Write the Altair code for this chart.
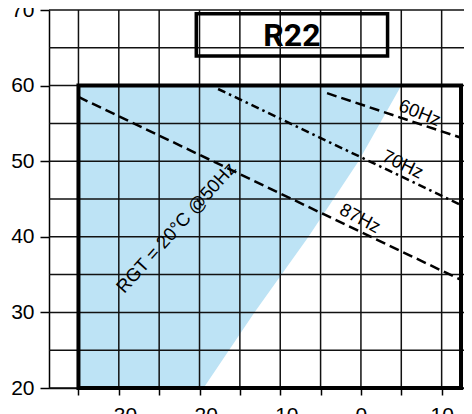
import altair as alt
import pandas as pd

# ---- data ----
grid_x = [-35, -30, -25, -20, -15, -10, -5, 0, 5, 10]
grid_y = [20, 25, 30, 35, 40, 45, 50, 55, 60, 65, 70]
x_ticks = [-35, -30, -25, -20, -15, -10, -5, 0, 5, 10]
y_ticks = [20, 30, 40, 50, 60, 70]

# shaded region (RGT = 20°C @50Hz): left edge at -35, right edge per condensing temp
blue_y = [20, 30, 40, 50, 60]
blue_x_right = [-19.5, -13.2, -6.5, -0.3, 5.0]
blue_x_left = [-35, -35, -35, -35, -35]

# envelope rectangle
env_x = [-35]
env_x2 = [12.4]
env_y = [20]
env_y2 = [60]

# R22 box
box_x = [-20.4]
box_x2 = [3.3]
box_y = [63.9]
box_y2 = [69.5]

# frequency lines
hz60_x = [-4.2, 12.4]
hz60_y = [59.0, 53.1]
hz70_x = [-17.7, 12.4]
hz70_y = [59.55, 44.2]
hz87_x = [-35.0, 12.4]
hz87_y = [58.5, 34.3]

# labels
lab_text = ["60Hz", "70Hz", "87Hz", "RGT = 20°C @50Hz"]
lab_x = [7.3, 5.2, -0.1, -22.9]
lab_y = [56.4, 49.6, 42.45, 41.2]
lab_angle = [22, 26, 28, 312]

FONT = "Liberation Sans"

xscale = alt.Scale(domain=[-38.65, 12.77], nice=False, zero=False)
yscale = alt.Scale(domain=[20, 70], nice=False, zero=False)

xaxis = alt.Axis(values=x_ticks, grid=False, tickSize=7, tickWidth=1.5, tickColor="black",
                 domainColor="black", domainWidth=1.5, labelFontSize=21, labelFont=FONT,
                 labelColor="black", labelPadding=9, title=None,
                 labelExpr="datum.value % 10 == 0 ? datum.label : ''")
yaxis = alt.Axis(values=y_ticks, grid=False, tickSize=9, tickWidth=1.5, tickColor="black",
                 domainColor="black", domainWidth=1.5, labelFontSize=21, labelFont=FONT,
                 labelColor="black", labelPadding=6, title=None)


def X(f="x"):
    return alt.X(f"{f}:Q", scale=xscale, axis=xaxis, title=None)


def Y(f="y"):
    return alt.Y(f"{f}:Q", scale=yscale, axis=yaxis, title=None)


blue_df = pd.DataFrame({"y": blue_y, "x": blue_x_left, "x2": blue_x_right})
blue = alt.Chart(blue_df).mark_area(orient="horizontal", color="#bde3f5", opacity=1).encode(
    y=Y(), x=X(), x2="x2:Q"
)

gx = alt.Chart(pd.DataFrame({"x": grid_x})).mark_rule(color="#111111", strokeWidth=1.5).encode(x=X())
gy = alt.Chart(pd.DataFrame({"y": grid_y})).mark_rule(color="#111111", strokeWidth=1.5).encode(y=Y())

env = alt.Chart(pd.DataFrame({"x": env_x, "x2": env_x2, "y": env_y, "y2": env_y2})).mark_rect(
    fill=None, stroke="black", strokeWidth=4
).encode(x=X(), x2="x2:Q", y=Y(), y2="y2:Q")

box = alt.Chart(pd.DataFrame({"x": box_x, "x2": box_x2, "y": box_y, "y2": box_y2})).mark_rect(
    fill=None, stroke="black", strokeWidth=3.5
).encode(x=X(), x2="x2:Q", y=Y(), y2="y2:Q")

r22 = alt.Chart(pd.DataFrame({"x": [(box_x[0] + box_x2[0]) / 2], "y": [(box_y[0] + box_y2[0]) / 2], "t": ["R22"]})).mark_text(
    font="Roboto", fontWeight="bold", fontSize=32,
    color="black", align="center", baseline="middle", dy=1
).encode(x=X(), y=Y(), text="t:N")

dashed_df = pd.DataFrame({
    "x": hz60_x + hz87_x,
    "y": hz60_y + hz87_y,
    "s": ["60"] * len(hz60_x) + ["87"] * len(hz87_x),
})
dashed = alt.Chart(dashed_df).mark_line(color="black", strokeWidth=2.5, strokeDash=[10, 5]).encode(
    x=X(), y=Y(), detail="s:N"
)
dashdot = alt.Chart(pd.DataFrame({"x": hz70_x, "y": hz70_y})).mark_line(
    color="black", strokeWidth=2.5, strokeDash=[8, 4, 2.5, 4]
).encode(x=X(), y=Y())

labels = alt.Chart(pd.DataFrame({"x": lab_x, "y": lab_y, "t": lab_text, "a": lab_angle})).mark_text(
    font=FONT, fontSize=18.5, color="black", align="center", baseline="middle"
).encode(x=X(), y=Y(), text="t:N", angle=alt.Angle("a:Q", scale=None))

chart = alt.layer(blue, gx, gy, dashed, dashdot, env, box, r22, labels).properties(
    width=415, height=378,
    autosize=alt.AutoSizeParams(type="none"),
    padding={"left": 41, "top": 2, "right": 0, "bottom": 26},
    background="white",
).configure_view(stroke=None)

chart.save("out.html", embed_options={"renderer": "svg", "actions": False})
